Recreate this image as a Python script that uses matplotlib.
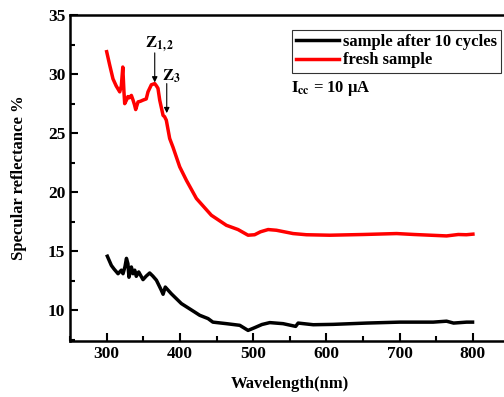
# Specular reflectance vs wavelength
import matplotlib
matplotlib.use('Agg')
import matplotlib.pyplot as plt
from matplotlib.ticker import MultipleLocator

plt.rcParams['font.family'] = ['Liberation Serif', 'DejaVu Serif']
plt.rcParams['font.weight'] = 'bold'
plt.rcParams['mathtext.fontset'] = 'stix'

# fresh sample (red)
fresh_wl = [300, 304, 308.6, 313, 317.8, 320, 322, 323.5, 324.6, 327, 329, 331, 333.7, 336, 338, 339.6,
            342.8, 346, 349.6, 354, 356.4, 361, 365.6, 368, 370, 372.4, 377, 379, 381.4, 386, 390.6,
            399.7, 408.9, 422.5, 442.9, 463.4, 479.3, 493, 502, 510, 520.4, 531.7, 554.5, 572.7,
            604.6, 650, 695.8, 720, 764, 780, 791, 800]
fresh_val = [31.9, 30.8, 29.6, 29.0, 28.5, 29.0, 30.6, 28.6, 27.5, 27.8, 28.1, 28.0, 28.2, 27.8, 27.4, 27.0,
             27.65, 27.7, 27.8, 27.9, 28.5, 29.1, 29.2, 29.0, 28.8, 27.8, 26.5, 26.4, 26.1, 24.55, 23.8,
             22.15, 21.0, 19.47, 18.05, 17.2, 16.84, 16.36, 16.4, 16.65, 16.84, 16.78, 16.5, 16.4,
             16.36, 16.42, 16.5, 16.42, 16.3, 16.42, 16.4, 16.45]

# sample after 10 cycles (black)
cyc_wl = [300.9, 306.4, 310, 315.5, 320, 322.3, 325, 327, 329, 330.4, 333.7, 336, 338.3, 340.4, 343.7,
          349.6, 354, 358.7, 363, 367.9, 374.6, 377, 380, 388.3, 402, 420, 427, 438.4, 445, 463.5,
          481.7, 493, 502, 512, 522.7, 540.8, 558, 561.4, 582, 609, 654.7, 700, 745.8, 764, 773.6,
          791.4, 799.5]
cyc_val = [14.58, 13.8, 13.5, 13.1, 13.4, 13.1, 13.7, 14.4, 13.95, 12.8, 13.67, 13.1, 13.4, 12.88, 13.25,
           12.6, 12.9, 13.16, 12.9, 12.55, 11.7, 11.36, 11.97, 11.4, 10.57, 9.86, 9.58, 9.3, 9.0, 8.87,
           8.73, 8.3, 8.53, 8.8, 8.96, 8.87, 8.64, 8.92, 8.78, 8.81, 8.92, 9.0, 9.0, 9.08, 8.92,
           9.0, 9.0]

fig = plt.figure(figsize=(5.04, 3.97), dpi=100)
ax = fig.add_axes([0.139, 0.141, 0.872, 0.821])

ax.plot(cyc_wl, cyc_val, color='black', lw=2.5, label='sample after 10 cycles')
ax.plot(fresh_wl, fresh_val, color='red', lw=2.5, label='fresh sample')

ax.set_xlim(250, 850)
ax.set_ylim(7.4, 35)
ax.set_xticks([300, 400, 500, 600, 700, 800])
ax.set_yticks([10, 15, 20, 25, 30, 35])
ax.xaxis.set_minor_locator(MultipleLocator(50))
ax.yaxis.set_minor_locator(MultipleLocator(2.5))
ax.tick_params(which='both', direction='in', width=1.5, labelsize=12.5, top=False, right=False)
ax.tick_params(which='major', length=6)
ax.tick_params(which='minor', length=3.5)
for lab in ax.get_xticklabels() + ax.get_yticklabels():
    lab.set_fontweight('bold')
for s in ax.spines.values():
    s.set_linewidth(1.8)

ax.set_xlabel('Wavelength(nm)', fontsize=12, fontweight='bold', labelpad=10)
ax.set_ylabel('Specular reflectance %', fontsize=12, fontweight='bold', labelpad=15)

leg = ax.legend(loc='upper left', bbox_to_anchor=(0.505, 0.955), fontsize=12, frameon=True,
                fancybox=False, edgecolor='black', handlelength=2.6, handletextpad=0.2,
                borderpad=0.25, labelspacing=0.15, borderaxespad=0)
leg.get_frame().set_linewidth(0.8)
for t in leg.get_texts():
    t.set_fontweight('bold')

ax.text(551, 28.8, r'$\mathbf{I_{cc}}$ = 10 μA', fontsize=12, fontweight='bold', va='center')

# arrows marking Z peaks
arrow = dict(arrowstyle='-|>', color='black', lw=0.8, mutation_scale=8, shrinkA=0, shrinkB=0)
ax.annotate('', xy=(365.6, 29.3), xytext=(365.6, 31.8), arrowprops=arrow)
ax.annotate('', xy=(382, 26.7), xytext=(382, 29.2), arrowprops=arrow)
ax.text(373, 32.5, r'$\mathbf{Z_{1,2}}$', fontsize=12, ha='center', va='center')
ax.text(388.5, 29.8, r'$\mathbf{Z_{3}}$', fontsize=12, ha='center', va='center')

fig.savefig('out.png', dpi=100)
